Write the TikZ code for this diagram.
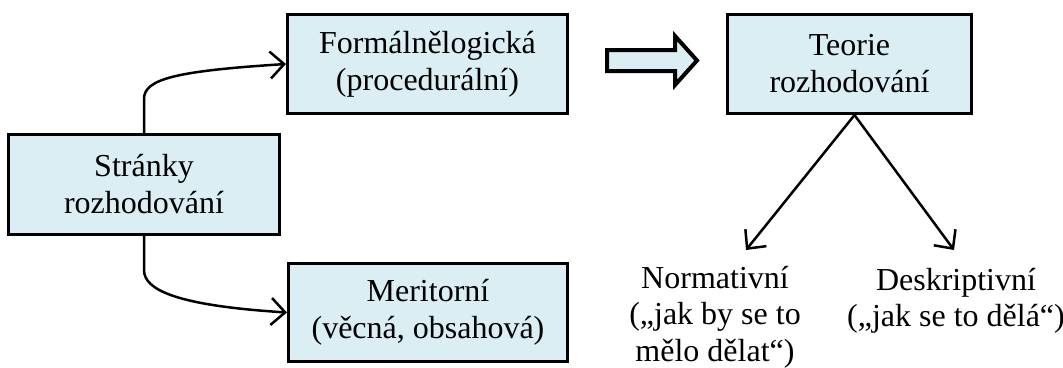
\documentclass[tikz,border=0pt]{standalone}
\usepackage{fontspec}
\setmainfont{Liberation Serif}
\usetikzlibrary{arrows.meta,calc}
\definecolor{boxfill}{HTML}{DAEEF3}
\begin{document}
\begin{tikzpicture}[x=1pt,y=-1pt,
  box/.style={draw=black,fill=boxfill,line width=2.6pt,align=center,inner sep=0pt,font=\fontsize{32}{37}\selectfont},
  lbl/.style={align=center,inner sep=0pt,font=\fontsize{32}{36.5}\selectfont},
  conn/.style={line width=2.5pt,-{Straight Barb[length=14pt,width=27pt]}},
  bigarrow/.style={draw=black,line width=4pt,fill=boxfill,line join=miter}]
\useasboundingbox (0,0) rectangle (1063,367);

\node[box,minimum width=280.5pt,minimum height=99.5pt] (F) at (427.5,64) {Formálnělogická\\(procedurální)};
\node[box,minimum width=271.5pt,minimum height=100.5pt] (S) at (144,184.5) {Stránky\\rozhodování};
\node[box,minimum width=279.5pt,minimum height=98.5pt] (M) at (428,312.5) {Meritorní\\(věcná, obsahová)};
\node[box,minimum width=244.5pt,minimum height=99.5pt] (T) at (849.5,64) {Teorie\\rozhodování};

\node[lbl] (N) at (715,317) {Normativní\\(„jak by se to\\mělo dělat“)};
\node[lbl] (D) at (956,301) {Deskriptivní\\(„jak se to dělá“)};

\draw[bigarrow] (607,50) -- (675,50) -- (675,36) -- (697,60.5) -- (675,85) -- (675,71) -- (607,71) -- cycle;

\draw[conn] (S.north) -- ($(S.north)+(0,-34)$)
  .. controls ($(S.north)+(0,-54)$) and ($(F.west)+(-110,7)$) .. (F.west);
\draw[conn] (S.south) -- ($(S.south)+(0,34)$)
  .. controls ($(S.south)+(0,54)$) and ($(M.west)+(-110,-7)$) .. (M.west);

\coordinate (nEnd) at (746,250);
\coordinate (dEnd) at (954,250);
\draw[conn] ($(T.south)+(5,0)$) -- (nEnd);
\draw[conn] ($(T.south)+(5,0)$) -- (dEnd);
\end{tikzpicture}
\end{document}
